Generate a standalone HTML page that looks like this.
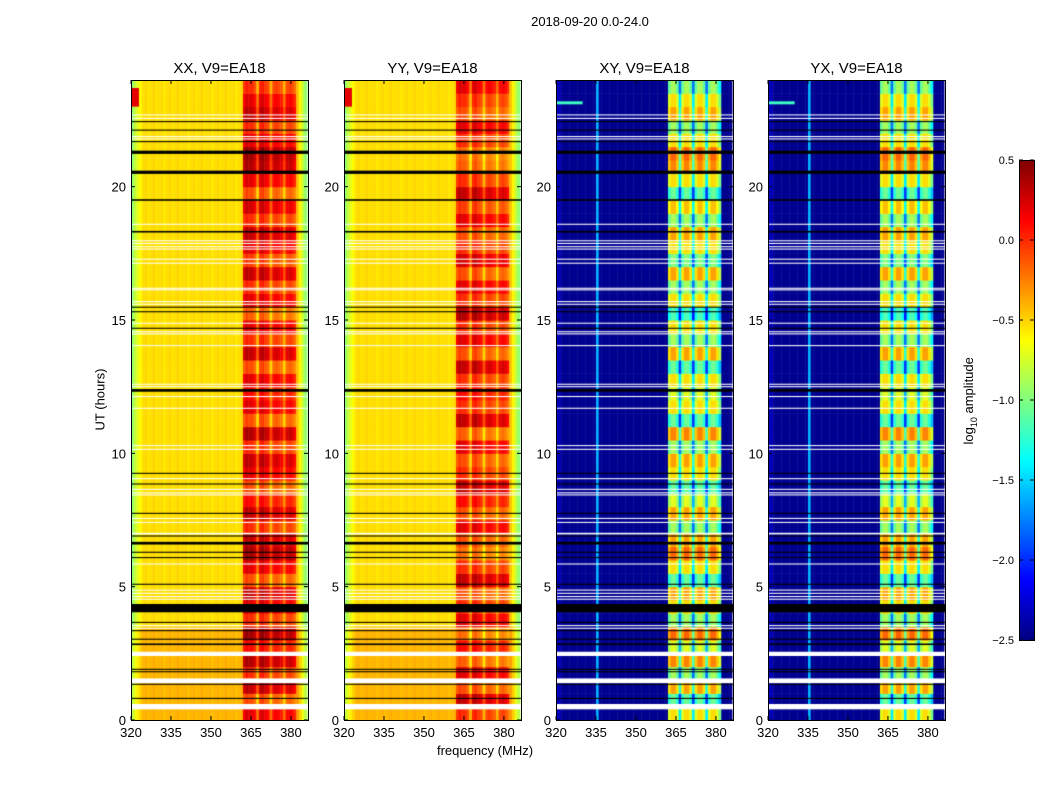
<!DOCTYPE html>
<html><head><meta charset="utf-8"><style>
body{margin:0;background:#fff;width:1050px;height:800px;position:relative;overflow:hidden;font-family:"Liberation Sans",sans-serif;}
.t{position:absolute;font-size:13px;color:#000;white-space:nowrap}
canvas{position:absolute}
</style></head><body>
<div class="t" style="left:490px;top:14px;width:200px;text-align:center">2018-09-20 0.0-24.0</div>
<div class="t" style="left:55px;top:392px;transform:rotate(-90deg);width:90px;text-align:center">UT (hours)</div>
<div class="t" style="left:420px;top:743px;width:130px;text-align:center">frequency (MHz)</div>
<div class="t" style="left:920px;top:392px;transform:rotate(-90deg);width:100px;text-align:center">log<sub style="font-size:9px">10</sub> amplitude</div>
<svg id="ax" width="1050" height="800" style="position:absolute;left:0;top:0"></svg>
<script>
const panelTitles=["XX, V9=EA18","YY, V9=EA18","XY, V9=EA18","YX, V9=EA18"];
const panelLefts=[131,344,556,768];
const xTicks=[320,335,350,365,380];
const yTicks=[0,5,10,15,20];
const cbTicks=[0.5,0.0,-0.5,-1.0,-1.5,-2.0,-2.5];
// spectra at 1 MHz bins from 320 to 385
const parSpec=[-0.95,-0.8,-0.7,-0.62,-0.53,-0.51,-0.55,-0.53,-0.5,-0.54,-0.53,-0.52,-0.56,-0.53,-0.51,-0.55,-0.53,-0.5,-0.54,-0.53,-0.52,-0.56,-0.53,-0.51,-0.55,-0.53,-0.5,-0.54,-0.53,-0.52,-0.56,-0.53,-0.51,-0.55,-0.53,-0.5,-0.54,-0.53,-0.52,-0.56,-0.53,-0.51,
0.05,0.15,0.1,0.1,0.0,-0.3,0.1,0.15,0.05,0.0,-0.3,0.0,0.05,0.0,-0.05,-0.3,0.0,0.05,0.0,-0.1,-0.45,-0.6,-0.8,-0.95];
const crossSpec=[-2.3,-2.35,-2.45,-2.45,-2.45,-2.45,-2.45,-2.45,-2.45,-2.45,-2.45,-2.45,-2.45,-2.45,-2.45,-1.6,-2.45,-2.45,-2.45,-2.45,-2.45,-2.45,-2.45,-2.45,-2.45,-2.45,-2.45,-2.45,-2.45,-2.45,-2.45,-2.45,-2.45,-2.45,-2.45,-2.45,-2.45,-2.45,-2.45,-2.45,-2.45,-2.45,
-0.9,-0.7,-0.7,-0.9,-1.6,-0.9,-0.7,-0.7,-0.9,-1.6,-0.9,-0.7,-0.7,-0.9,-1.6,-0.9,-0.7,-0.7,-0.9,-1.2,-2.45,-2.45,-2.45,-2.45];
// band modulation per half hour, 0h..24h
const bandMod=[0.1,-0.2,0.2,-0.1,0.25,0,0.3,-0.1,0.1,0.2,-0.2,0.1,0.3,0.2,-0.1,0.2,0,-0.2,0.1,0.2,-0.1,0.25,-0.2,0.1,0,0.1,-0.2,0.2,-0.1,0.1,-0.25,0.1,-0.1,0.2,-0.15,0.1,0.2,-0.1,0.15,-0.2,0.1,0.25,0.3,0.1,-0.1,0.2,0.1,-0.1];
// flagged rows: start hour, end hour, color (w=white, k=black)
const flagStart=[22.67,22.54,22.42,22.10,21.86,21.77,21.67,21.23,20.48,19.47,18.57,18.28,17.95,17.85,17.73,17.64,17.26,17.11,16.17,16.11,15.67,15.57,15.46,15.29,14.86,14.67,14.54,14.46,14.02,12.57,12.48,12.31,12.11,11.67,10.27,10.13,9.23,9.03,8.83,8.63,8.50,8.42,7.73,7.54,7.39,6.96,6.88,6.58,6.27,6.07,5.83,5.07,4.85,4.73,4.61,4.51,4.04,3.64,3.52,3.42,3.33,3.01,2.81,2.40,1.88,1.79,1.38,1.32,0.79,0.40];
const flagEnd=[22.71,22.58,22.46,22.14,21.90,21.81,21.71,21.35,20.60,19.53,18.61,18.34,17.99,17.89,17.77,17.68,17.30,17.15,16.21,16.15,15.71,15.61,15.50,15.33,14.90,14.71,14.58,14.50,14.06,12.61,12.52,12.41,12.15,11.71,10.31,10.17,9.27,9.07,8.87,8.67,8.54,8.46,7.77,7.58,7.43,7.02,6.92,6.68,6.31,6.11,5.87,5.11,4.89,4.77,4.65,4.55,4.35,3.68,3.56,3.46,3.37,3.05,2.87,2.56,1.92,1.83,1.56,1.36,0.83,0.60];
const flagColor=["w","w","k","k","w","w","k","k","k","k","w","k","w","w","w","w","w","w","w","w","w","w","k","k","w","k","w","w","w","w","w","k","w","w","w","w","k","w","k","w","w","w","k","w","w","w","k","k","k","k","w","k","w","w","w","w","k","k","w","w","k","k","k","w","k","k","w","k","k","w"];
const FMIN=320,FMAX=386.4,PW=177,TOP=80,PH=640,CB=[1019,160,15,480],VMIN=-2.5,VMAX=0.5;
const xs=f=>(f-FMIN)/(FMAX-FMIN)*PW;
const ys=h=>PH-h/24*PH;
function jet(v){let t=Math.max(0,Math.min(1,(v-VMIN)/(VMAX-VMIN)));
 const c=x=>Math.round(255*Math.max(0,Math.min(1,1.5-Math.abs(4*t-x))));
 return `rgb(${c(3)},${c(2)},${c(1)})`;}
const svg=document.getElementById('ax');const NS='http://www.w3.org/2000/svg';
function mk(tag,at,txt){const e=document.createElementNS(NS,tag);for(const k in at)e.setAttribute(k,at[k]);if(txt!==undefined)e.textContent=txt;svg.appendChild(e);return e;}
panelLefts.forEach((L,p)=>{
 const cv=document.createElement('canvas');cv.width=PW;cv.height=PH;cv.style.left=L+'px';cv.style.top=TOP+'px';
 
 
 document.body.insertBefore(cv,svg);
 const g=cv.getContext('2d');const spec=p<2?parSpec:crossSpec;
 for(let i=0;i<48;i++){
  const h0=i*0.5,h1=h0+0.5;const y0=ys(h1),y1=ys(h0);
  for(let j=0;j<spec.length;j++){
   let v=spec[j];const f=FMIN+j;
   if(f>=362&&f<382){v=p<2?v+bandMod[i]*(p==1?-1:1):v+bandMod[i]*1.8;}
   else if(p<2&&h0<3.4)v+=0.12;
   g.fillStyle=jet(v);const x0=xs(f),x1=xs(f+1);g.fillRect(x0,y0,x1-x0+0.5,y1-y0+0.5);
  }}
 if(p<2){g.fillStyle=jet(0.2);g.fillRect(0,ys(23.7),xs(323),ys(23)-ys(23.7));}
 else{g.fillStyle=jet(-1.2);g.fillRect(0,ys(23.2),xs(330),3);}
 for(let k=0;k<flagStart.length;k++){g.fillStyle=flagColor[k]=='w'?'#fff':'#000';const a=ys(flagEnd[k]),b=ys(flagStart[k]);g.fillRect(0,a,PW,Math.max(1,b-a));}
 mk('rect',{x:L+0.5,y:TOP+0.5,width:PW,height:PH,fill:'none',stroke:'#000',});
 mk('text',{x:L+PW/2,y:73,'text-anchor':'middle','font-size':15,'font-family':'Liberation Sans',},panelTitles[p]);
 xTicks.forEach(t=>{const x=L+xs(t);mk('line',{x1:x,x2:x,y1:TOP+PH,y2:TOP+PH-4,stroke:'#000'});mk('line',{x1:x,x2:x,y1:TOP,y2:TOP+4,stroke:'#000'});
  mk('text',{x:x,y:TOP+PH+17,'text-anchor':'middle','font-size':13,'font-family':'Liberation Sans',},t);});
 yTicks.forEach(t=>{const y=TOP+ys(t);mk('line',{x1:L,x2:L+4,y1:y,y2:y,stroke:'#000'});mk('line',{x1:L+PW,x2:L+PW-4,y1:y,y2:y,stroke:'#000'});
  mk('text',{x:L-5,y:y+5,'text-anchor':'end','font-size':13,'font-family':'Liberation Sans',},t);});
});
// colorbar
const cb=document.createElement('canvas');cb.width=CB[2];cb.height=CB[3];cb.style.left=CB[0]+'px';cb.style.top=CB[1]+'px';


document.body.insertBefore(cb,svg);
const cg=cb.getContext('2d');for(let y=0;y<CB[3];y++){cg.fillStyle=jet(VMAX-(y/CB[3])*(VMAX-VMIN));cg.fillRect(0,y,CB[2],1);}
mk('rect',{x:CB[0]+0.5,y:CB[1]+0.5,width:CB[2],height:CB[3],fill:'none',stroke:'#000'});
cbTicks.forEach(t=>{const y=CB[1]+(VMAX-t)/(VMAX-VMIN)*CB[3];mk('line',{x1:CB[0]+CB[2]-4,x2:CB[0]+CB[2],y1:y,y2:y,stroke:'#000'});mk('line',{x1:CB[0],x2:CB[0]+4,y1:y,y2:y,stroke:'#000'});
 mk('text',{x:CB[0]-5,y:y+4,'text-anchor':'end','font-size':11,'font-family':'Liberation Sans',},t.toFixed(1).replace('-','\u2212'));});
</script>
</body></html>
